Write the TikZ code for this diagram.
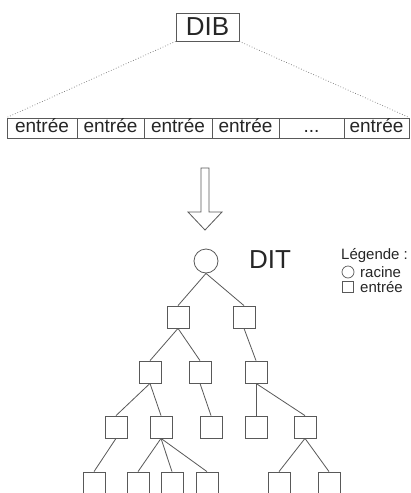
\documentclass[tikz,border=0pt]{standalone}
\usepackage{fontspec}
\setmainfont{Liberation Sans}
\begin{document}
\begin{tikzpicture}[x=1pt,y=-1pt,
  ink/.style={draw=black!65, line width=0.8pt},
  txt/.style={text=black!85, inner sep=0pt},
  box/.style={ink, minimum width=22pt, minimum height=22pt, inner sep=0pt},
  rootnode/.style={ink, circle, minimum size=24pt, inner sep=0pt},
  cell/.style={ink, txt, minimum height=20pt, text height=13.5pt, text depth=4pt,
    font=\fontsize{19}{19}\selectfont},
  link/.style={draw=black!55, line width=0.7pt, dotted},
  big/.style={txt, font=\fontsize{26}{26}\selectfont},
  small/.style={txt, anchor=west, font=\fontsize{15}{15}\selectfont},
]
\useasboundingbox (0,0) rectangle (411,493);
\clip (0,0) rectangle (411,493);
\fill[white] (0,0) rectangle (411,493);

% Directory information base and its entries
\node[ink, big, minimum width=63pt, minimum height=28pt] (dib) at (207.5,27) {DIB};
\node[cell, minimum width=70pt] (e1) at (42,128) {entrée};
\node[cell, minimum width=67pt] (e2) at (110.5,128) {entrée};
\node[cell, minimum width=68pt] (e3) at (178,128) {entrée};
\node[cell, minimum width=67pt] (e4) at (245.5,128) {entrée};
\node[cell, minimum width=65pt] (e5) at (311.5,128) {...};
\node[cell, minimum width=65pt] (e6) at (376.5,128) {entrée};
\draw[link] (dib.south west) -- (e1.north west);
\draw[link] (dib.south east) -- (e6.north east);

% hollow block arrow
\draw[ink, fill=white] (201,168) -- (209,168) -- (209,212) -- (222,212)
  -- (205,230) -- (188,212) -- (201,212) -- cycle;

% Directory information tree
\node[rootnode] (root) at (206,261) {};
\node[big] (dit) at (270,260) {DIT};
\node[box] (a1) at (178,317) {};
\node[box] (a2) at (244,317) {};
\node[box] (b1) at (150,372) {};
\node[box] (b2) at (200,372) {};
\node[box] (b3) at (256,372) {};
\node[box] (c1) at (116,427) {};
\node[box] (c2) at (161,427) {};
\node[box] (c3) at (211,427) {};
\node[box] (c4) at (256,427) {};
\node[box] (c5) at (305,427) {};
\node[box] (d1) at (94,483) {};
\node[box] (d2) at (138,483) {};
\node[box] (d3) at (172,483) {};
\node[box] (d4) at (207,483) {};
\node[box] (d5) at (279,483) {};
\node[box] (d6) at (329,483) {};
\foreach \p/\c in {root/a1,root/a2,a1/b1,a1/b2,a2/b3,b1/c1,b1/c2,b2/c3,b3/c4,b3/c5,
                   c1/d1,c2/d2,c2/d3,c2/d4,c5/d5,c5/d6}
  \draw[ink] (\p.south) -- (\c.north);

% legend
\node[small] (leg) at (341,256) {Légende :};
\node[ink, circle, minimum size=12pt, inner sep=0pt, line width=0.7pt] (kr) at (348,272) {};
\node[small] (kt1) at (360,272) {racine};
\node[ink, minimum size=11pt, inner sep=0pt, line width=0.7pt] (ke) at (348,287) {};
\node[small] (kt2) at (360,287) {entrée};
\end{tikzpicture}
\end{document}
